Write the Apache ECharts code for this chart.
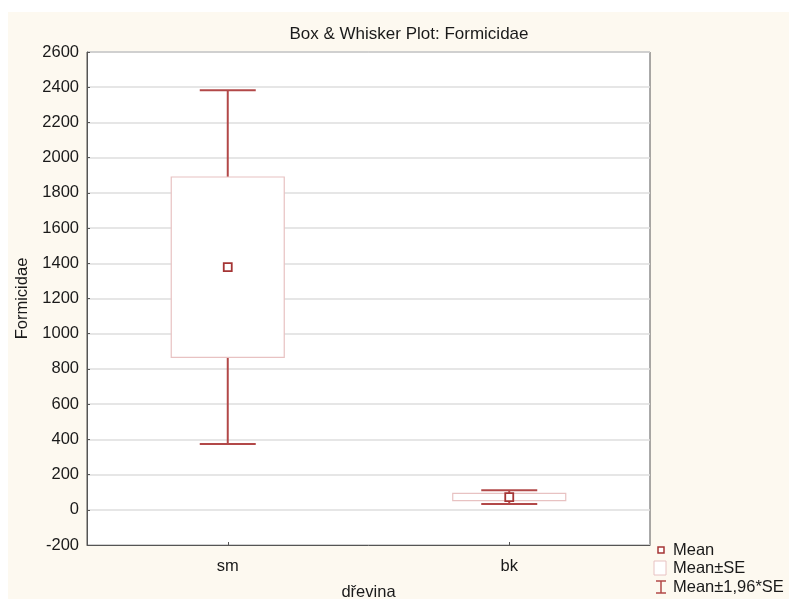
<!DOCTYPE html>
<html>
<head>
<meta charset="utf-8">
<script src="https://cdn.jsdelivr.net/npm/echarts@6/dist/echarts.min.js"></script>
<style>
  html, body { margin: 0; padding: 0; background: #ffffff; }
  #chart { width: 789px; height: 599px; }
</style>
</head>
<body>
<div id="chart"></div>
<script>
// Categories (tree species) and summary statistics per category
var categories = ['sm', 'bk'];
var means      = [1378, 72];
var seLow      = [866, 52];     // Mean - SE
var seHigh     = [1890, 93];    // Mean + SE
var ciLow      = [373, 33];     // Mean - 1.96*SE
var ciHigh     = [2383, 111];   // Mean + 1.96*SE

var yTicks = { min: -200, max: 2600, step: 200 };

var FONT = 'Liberation Sans, Arial, sans-serif';
var FS = 16.5;
var WHISKER = '#b24848';
var BOX_EDGE = '#e8c2c2';
var MEAN_EDGE = '#a53535';

var seriesData = categories.map(function (c, i) {
  return [i, means[i], seLow[i], seHigh[i], ciLow[i], ciHigh[i]];
});

function renderBox(params, api) {
  var idx = api.value(0);
  var pMean = api.coord([idx, api.value(1)]);
  var pSeLo = api.coord([idx, api.value(2)]);
  var pSeHi = api.coord([idx, api.value(3)]);
  var pCiLo = api.coord([idx, api.value(4)]);
  var pCiHi = api.coord([idx, api.value(5)]);
  var x = pMean[0];
  var boxW = 113, capW = 56, m = 8;
  var wStyle = { stroke: WHISKER, lineWidth: 2 };
  var tall = (pSeLo[1] - pSeHi[1]) > 20;
  return {
    type: 'group',
    children: [
      { type: 'line', shape: { x1: x, y1: pCiHi[1], x2: x, y2: pSeHi[1] }, style: wStyle },
      { type: 'line', shape: { x1: x, y1: pSeLo[1], x2: x, y2: pCiLo[1] }, style: wStyle },
      { type: 'line', shape: { x1: x - capW / 2, y1: pCiHi[1], x2: x + capW / 2, y2: pCiHi[1] }, style: wStyle },
      { type: 'line', shape: { x1: x - capW / 2, y1: pCiLo[1], x2: x + capW / 2, y2: pCiLo[1] }, style: wStyle },
      { type: 'rect', shape: { x: x - boxW / 2, y: pSeHi[1], width: boxW, height: pSeLo[1] - pSeHi[1] },
        style: { fill: '#ffffff', stroke: BOX_EDGE, lineWidth: 1.2 } },
      { type: 'line', shape: { x1: x, y1: pSeHi[1], x2: x, y2: pMean[1] - m / 2 }, style: wStyle, invisible: tall },
      { type: 'line', shape: { x1: x, y1: pMean[1] + m / 2, x2: x, y2: pSeLo[1] }, style: wStyle, invisible: tall },
      { type: 'rect', shape: { x: x - m / 2, y: pMean[1] - m / 2, width: m, height: m },
        style: { fill: '#ffffff', stroke: MEAN_EDGE, lineWidth: 1.8 } }
    ]
  };
}

var chart = echarts.init(document.getElementById('chart'), null, { renderer: 'canvas' });

var legendY = [550, 568, 587];
var legendFont = FS + 'px ' + FONT;

chart.setOption({
  backgroundColor: '#ffffff',
  animation: false,
  title: {
    text: 'Box & Whisker Plot: Formicidae',
    left: 404, top: 21, textAlign: 'center',
    textStyle: { fontFamily: FONT, fontSize: 17, fontWeight: 'normal', color: '#1a1a1a' }
  },
  grid: {
    left: 87, top: 52, width: 563, height: 493,
    outerBoundsMode: 'none',
    containLabel: false,
    show: true, backgroundColor: '#ffffff', borderColor: '#555555', borderWidth: 1
  },
  xAxis: {
    type: 'category',
    data: categories,
    boundaryGap: true,
    name: 'dřevina',
    nameLocation: 'middle',
    nameGap: 39,
    nameTextStyle: { fontFamily: FONT, fontSize: FS, color: '#1a1a1a' },
    axisLine: { show: true, onZero: false, lineStyle: { color: '#555555', width: 1 } },
    axisTick: { show: true, inside: true, length: 3, alignWithLabel: true, lineStyle: { color: '#555555' } },
    axisLabel: { fontFamily: FONT, fontSize: FS, color: '#1a1a1a', margin: 13 },
    splitLine: { show: false }
  },
  yAxis: {
    type: 'value',
    min: yTicks.min, max: yTicks.max, interval: yTicks.step,
    name: 'Formicidae',
    nameLocation: 'middle',
    nameGap: 55,
    nameRotate: 90,
    nameTextStyle: { fontFamily: FONT, fontSize: FS, color: '#1a1a1a' },
    axisLine: { show: true, lineStyle: { color: '#555555', width: 1 } },
    axisTick: { show: true, inside: true, length: 3, lineStyle: { color: '#555555' } },
    axisLabel: { fontFamily: FONT, fontSize: FS, color: '#1a1a1a', margin: 8,
      formatter: function (v) { return String(v); } },
    splitLine: { show: true, lineStyle: { color: '#dedede', width: 1.5 } }
  },
  graphic: [
    // cream page panel behind the plot
    { type: 'rect', z: -10, silent: true,
      shape: { x: 8, y: 12, width: 781, height: 587 },
      style: { fill: '#fdf9f0' } },
    // legend: mean marker
    { type: 'rect', z: 10, shape: { x: 658, y: legendY[0] - 3, width: 6, height: 6 },
      style: { fill: '#ffffff', stroke: MEAN_EDGE, lineWidth: 1.5 } },
    { type: 'text', z: 10, x: 673, y: legendY[0],
      style: { text: 'Mean', font: legendFont, fill: '#1a1a1a', verticalAlign: 'middle' } },
    // legend: SE box
    { type: 'rect', z: 10, shape: { x: 654, y: legendY[1] - 7, width: 12, height: 14 },
      style: { fill: '#ffffff', stroke: BOX_EDGE, lineWidth: 1 } },
    { type: 'text', z: 10, x: 673, y: legendY[1],
      style: { text: 'Mean±SE', font: legendFont, fill: '#1a1a1a', verticalAlign: 'middle' } },
    // legend: whisker
    { type: 'group', z: 10, children: [
      { type: 'line', shape: { x1: 656, y1: legendY[2] - 6, x2: 666, y2: legendY[2] - 6 }, style: { stroke: WHISKER, lineWidth: 1.5 } },
      { type: 'line', shape: { x1: 661, y1: legendY[2] - 6, x2: 661, y2: legendY[2] + 6 }, style: { stroke: WHISKER, lineWidth: 1.5 } },
      { type: 'line', shape: { x1: 656, y1: legendY[2] + 6, x2: 666, y2: legendY[2] + 6 }, style: { stroke: WHISKER, lineWidth: 1.5 } }
    ] },
    { type: 'text', z: 10, x: 673, y: legendY[2],
      style: { text: 'Mean±1,96*SE', font: legendFont, fill: '#1a1a1a', verticalAlign: 'middle' } }
  ],
  series: [{
    type: 'custom',
    renderItem: renderBox,
    encode: { x: 0, y: [1, 2, 3, 4, 5] },
    data: seriesData,
    z: 5
  }]
});
</script>
</body>
</html>
